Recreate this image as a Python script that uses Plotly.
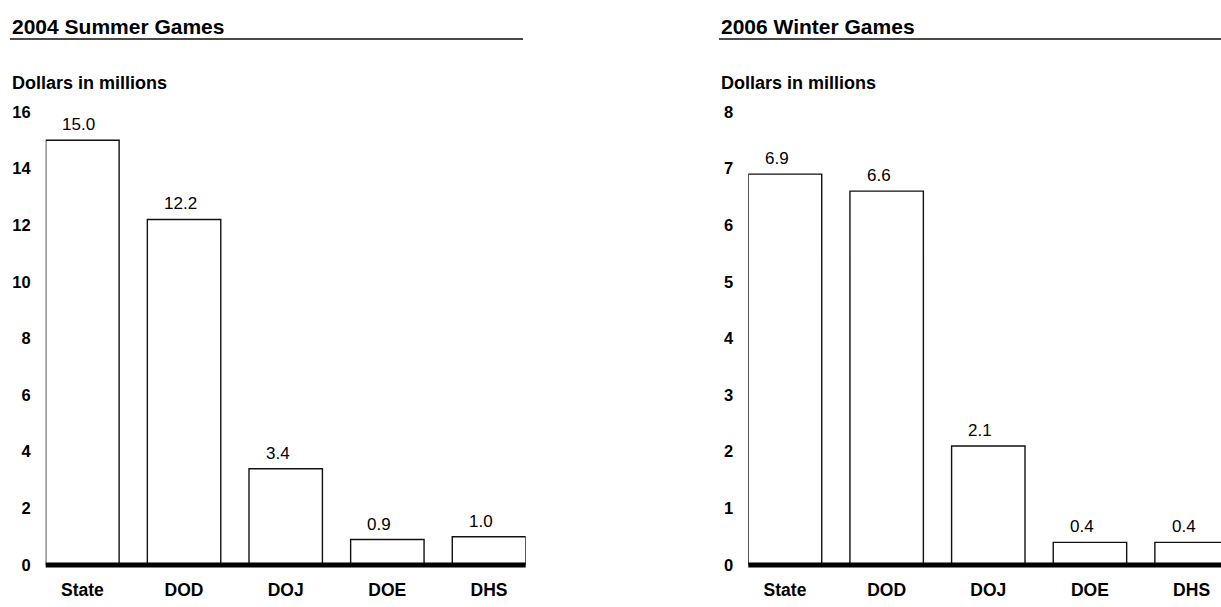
import plotly.graph_objects as go

# ---- data ----
agencies = ["State", "DOD", "DOJ", "DOE", "DHS"]
summer_2004 = [15.0, 12.2, 3.4, 0.9, 1.0]
winter_2006 = [6.9, 6.6, 2.1, 0.4, 0.4]
panel_titles = ["2004 Summer Games", "2006 Winter Games"]
y_axis_label = "Dollars in millions"
summer_ticks = [0, 2, 4, 6, 8, 10, 12, 14, 16]
winter_ticks = [0, 1, 2, 3, 4, 5, 6, 7, 8]

W, H = 1221, 607
FONT = "Liberation Sans, Arial, Helvetica, sans-serif"

def px_x(p):
    return p / W

def px_y(p):
    return 1 - p / H

fig = go.Figure()

fig.add_trace(go.Bar(x=agencies, y=summer_2004, xaxis="x", yaxis="y",
                     marker=dict(color="white", line=dict(color="#111111", width=1.4)),
                     hoverinfo="x+y", showlegend=False))
fig.add_trace(go.Bar(x=agencies, y=winter_2006, xaxis="x2", yaxis="y2",
                     marker=dict(color="white", line=dict(color="#111111", width=1.4)),
                     hoverinfo="x+y", showlegend=False))

ydom = [px_y(573), px_y(106)]
left_dom = [px_x(45.7), px_x(525.7)]
right_dom = [px_x(748.3), 1.0]
pitch = (525.7 - 45.7) / 4.7224
right_end = -0.3612 + (W - 748.3) / pitch

xcommon = dict(showgrid=False, zeroline=False, showline=False, ticks="",
               tickfont=dict(family=FONT, size=17.5, color="black", weight="bold"),
               ticklabelstandoff=12, fixedrange=True)
ycommon = dict(showgrid=False, zeroline=False, showline=False, ticks="",
               tickfont=dict(family=FONT, size=16.5, color="black", weight="bold"),
               ticklabelstandoff=14, fixedrange=True)

fig.update_layout(
    width=W, height=H, autosize=False,
    margin=dict(l=0, r=0, t=0, b=0),
    paper_bgcolor="white", plot_bgcolor="white",
    bargap=0.2776,
    xaxis=dict(domain=left_dom, range=[-0.3612, 4.3612], anchor="y", **xcommon),
    yaxis=dict(domain=ydom, range=[0, 16], tickvals=summer_ticks, anchor="x", **ycommon),
    xaxis2=dict(domain=right_dom, range=[-0.3612, right_end], anchor="y2", **xcommon),
    yaxis2=dict(domain=ydom, range=[0, 8], tickvals=winter_ticks, anchor="x2", **ycommon),
)

annotations = []
shapes = []
for title, tx, ux0, ux1, dom in [
    (panel_titles[0], 10, 10, 523, left_dom),
    (panel_titles[1], 719, 719, W, right_dom),
]:
    annotations.append(dict(text=title, x=px_x(tx), y=px_y(18.5), xref="paper", yref="paper",
                            xanchor="left", yanchor="middle", showarrow=False,
                            font=dict(family=FONT, size=21, color="black", weight="bold")))
    annotations.append(dict(text=y_axis_label, x=px_x(tx), y=px_y(76), xref="paper", yref="paper",
                            xanchor="left", yanchor="middle", showarrow=False,
                            font=dict(family=FONT, size=18, color="black", weight="bold")))
    shapes.append(dict(type="line", xref="paper", yref="paper",
                       x0=px_x(ux0), x1=px_x(ux1), y0=px_y(30.8), y1=px_y(30.8),
                       line=dict(color="#4a4a4a", width=2)))
    shapes.append(dict(type="line", xref="paper", yref="paper",
                       x0=dom[0], x1=dom[1], y0=ydom[0], y1=ydom[0],
                       line=dict(color="black", width=5)))

for xr, yr, vals in [("x", "y", summer_2004), ("x2", "y2", winter_2006)]:
    for a, v in zip(agencies, vals):
        annotations.append(dict(text=f"{v:.1f}", x=a, y=v, xref=xr, yref=yr,
                                xanchor="left", yanchor="bottom", xshift=-22, yshift=4,
                                showarrow=False,
                                font=dict(family=FONT, size=17, color="black")))

fig.update_layout(annotations=annotations, shapes=shapes)

fig.write_html(
    "out.html",
    config={"responsive": False, "displayModeBar": False},
    post_script="document.documentElement.style.margin='0';document.body.style.margin='0';"
                "document.body.style.padding='0';document.body.style.overflow='hidden';",
)
